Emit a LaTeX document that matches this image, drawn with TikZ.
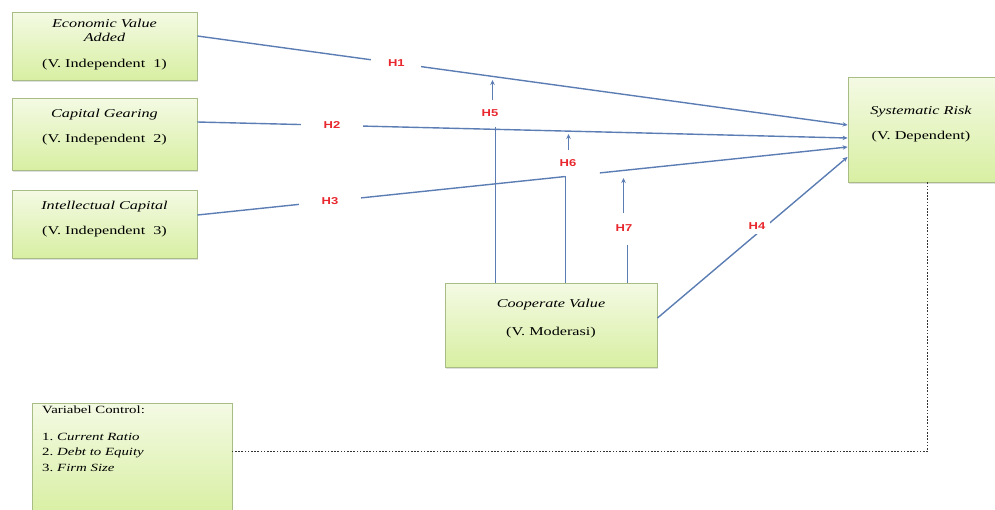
\documentclass[tikz,border=0pt]{standalone}
\usepackage{fontspec}
\setmainfont{Liberation Serif}[FakeStretch=1.35]
\newfontfamily\hfont{Liberation Sans}[FakeStretch=1.3]
\usetikzlibrary{arrows.meta,shadows,calc}
\definecolor{boxtop}{HTML}{F4FAE4}
\definecolor{boxbot}{HTML}{D8EFA2}
\definecolor{boxline}{HTML}{A8BC86}
\definecolor{connc}{HTML}{5B7DB3}
\definecolor{hred}{HTML}{E8282E}
\begin{document}
\begin{tikzpicture}[x=1pt,y=-1pt,
 varbox/.style={draw=boxline, line width=0.9pt, top color=boxtop, bottom color=boxbot,
   drop shadow={opacity=0.25,shadow xshift=1pt,shadow yshift=-1.5pt}, inner sep=0pt},
 vtext/.style={align=center, font=\fontsize{12}{14}\selectfont, inner sep=0pt},
 conn/.style={draw=connc, line width=1.4pt},
 arr/.style={conn, -{Stealth[length=5pt,width=4.5pt]}},
 hlab/.style={font=\hfont\fontsize{10}{10}\selectfont\bfseries, text=hred, fill=white, inner sep=1pt},
 dotline/.style={draw=black!80, line width=1.3pt, dash pattern=on 1.6pt off 1.6pt},
]
\useasboundingbox (0,0) rectangle (995,509);

% boxes
\node[varbox, minimum width=185pt, minimum height=68pt] (EVA) at (104.5,46) {};
\node[varbox, minimum width=185pt, minimum height=72pt] (CG) at (104.5,134) {};
\node[varbox, minimum width=185pt, minimum height=68pt] (IC) at (104.5,224) {};
\node[varbox, minimum width=149pt, minimum height=105pt] (SR) at (922.5,129.5) {};
\node[varbox, minimum width=212pt, minimum height=84pt] (CV) at (551,325) {};
\node[varbox, minimum width=200pt, minimum height=112pt] (VC) at (132,459) {};

% texts
\node[vtext] (EVAt) at (104.5,45) {\textit{Economic Value}\\\textit{Added}\\[12pt](V. Independent\ \ 1)};
\node[vtext] (CGt) at (104.5,127.5) {\textit{Capital Gearing}\\[11pt](V. Independent\ \ 2)};
\node[vtext] (ICt) at (104.5,219.5) {\textit{Intellectual Capital}\\[11pt](V. Independent\ \ 3)};
\node[vtext] (SRt) at (921,124.5) {\textit{Systematic Risk}\\[11pt](V. Dependent)};
\node[vtext] (CVt) at (551,319) {\textit{Cooperate Value}\\[14pt](V. Moderasi)};
\node[anchor=north west, align=left, inner sep=0pt, font=\fontsize{11}{15.5}\selectfont] (VCt) at (42,406)
  {Variabel Control:\\[11pt]
   \makebox[15pt][l]{1.}\textit{Current Ratio}\\
   \makebox[15pt][l]{2.}\textit{Debt to Equity}\\
   \makebox[15pt][l]{3.}\textit{Firm Size}};

% H1, H2
\draw[arr] ([yshift=10pt]EVA.east) -- ([yshift=4.5pt]SR.west)
  node[pos=0.306, hlab, minimum width=50pt, minimum height=14pt] (L1) {H1};
\draw[arr] ([yshift=12pt]CG.east) -- ([yshift=-8.5pt]SR.west)
  node[pos=0.207, hlab, minimum width=62pt, minimum height=14pt] (L2) {H2};

% H3 (interrupted where the moderator joins)
\coordinate (h3s) at ([yshift=9pt]IC.east);
\coordinate (h3e) at ([yshift=-17.5pt]SR.west);
\coordinate (j6) at ($(h3s)!0.565!(h3e)$);
\coordinate (j6b) at ($(h3s)!0.619!(h3e)$);
\draw[conn] (h3s) -- (j6)
  node[pos=0.361, hlab, minimum width=62pt, minimum height=14pt] (L3) {H3};
\draw[arr] (j6b) -- (h3e);

% H4
\draw[arr] ([yshift=7pt]CV.east) -- ([yshift=-27.5pt]SR.west);
\node[hlab, minimum width=26pt, minimum height=16pt] (L4) at (757,226) {H4};

% H5
\coordinate (t5) at (495.5,127);
\draw[conn] (t5 |- CV.north) -- (t5);
\node[hlab] (L5) at (490,113) {H5};
\coordinate (a5s) at (492.5,100);
\coordinate (a5e) at (492.5,80);
\draw[arr] (a5s) -- (a5e);

% H6
\coordinate (v6) at (565.5,0);
\draw[conn] (v6 |- CV.north) -- (v6 |- j6) -- (j6);
\node[hlab] (L6) at (568,163) {H6};
\coordinate (a6s) at (568.5,150);
\coordinate (a6e) at (568.5,134);
\draw[arr] (a6s) -- (a6e);

% H7
\coordinate (t7) at (627.5,245);
\draw[conn] (t7 |- CV.north) -- (t7);
\node[hlab] (L7) at (624,228) {H7};
\coordinate (a7s) at (623.5,213);
\coordinate (a7e) at (623.5,178);
\draw[arr] (a7s) -- (a7e);

% control (dotted)
\coordinate (dc) at (927.5,451.5);
\draw[dotline] (dc |- SR.south) -- (dc) -- (dc -| VC.east);
\end{tikzpicture}
\end{document}
